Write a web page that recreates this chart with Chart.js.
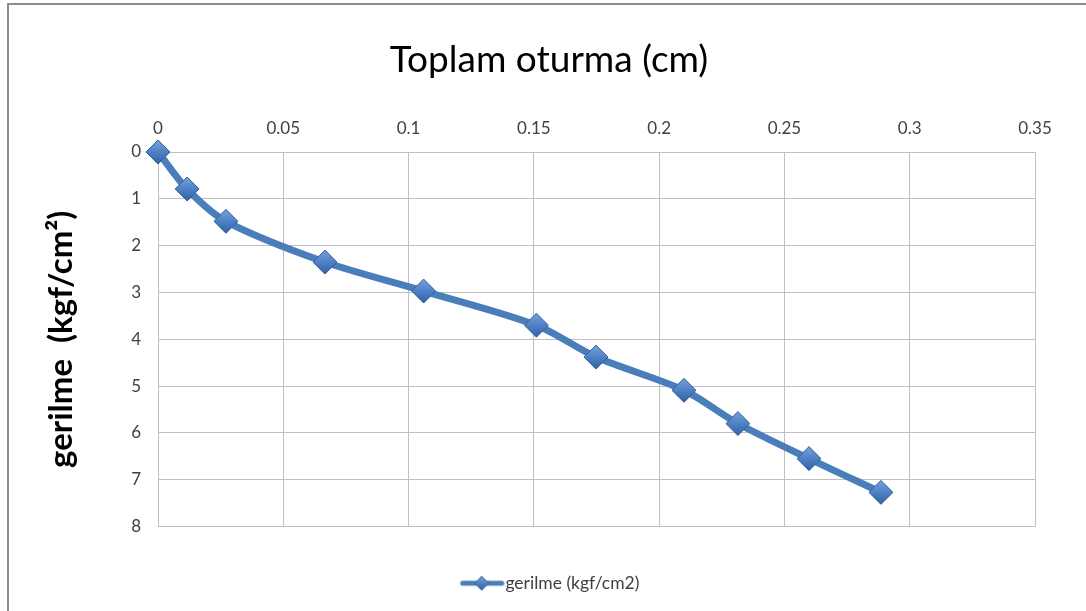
<!DOCTYPE html>
<html>
<head>
<meta charset="utf-8">
<title>Toplam oturma</title>
<script src="https://cdn.jsdelivr.net/npm/chart.js@4.4.1/dist/chart.umd.min.js"></script>
<style>
    body { margin: 0; background: #fff; overflow: hidden; }
    #frame {
        position: absolute; left: 7px; top: 3px; width: 1200px; height: 700px;
        border-left: 2px solid #8c8c8c; border-top: 2px solid #8c8c8c;
    }
    #wrap { position: absolute; left: 0; top: 0; width: 1086px; height: 611px; }
</style>
</head>
<body>
<div id="frame"></div>
<div id="wrap"><canvas id="chart"></canvas></div>
<script>
// Toplam oturma (cm) vs gerilme (kgf/cm2)
const oturma = [0, 0.0116, 0.0271, 0.0666, 0.106, 0.151, 0.1748, 0.2099, 0.2314, 0.2598, 0.2885];
const gerilme = [0, 0.79, 1.48, 2.35, 2.97, 3.70, 4.38, 5.09, 5.80, 6.55, 7.27];

const xTicks = [0, 0.05, 0.1, 0.15, 0.2, 0.25, 0.3, 0.35];
const yTicks = [0, 1, 2, 3, 4, 5, 6, 7, 8];

const seriesLabel = 'gerilme (kgf/cm2)';
const chartTitle = 'Toplam oturma (cm)';
const yTitle = 'gerilme  (kgf/cm\u00B2)';

const FONT = 'Lato, "Open Sans", sans-serif';
const lineColor = '#4a7ebb';

// shaded diamond marker, like the Excel bevel
function makeDiamond(r) {
    const c = document.createElement('canvas');
    const s = r * 2 + 4;
    c.width = s; c.height = s;
    const ctx = c.getContext('2d');
    const m = s / 2;
    const g = ctx.createLinearGradient(0, 0, 0, s);
    g.addColorStop(0, '#7fa9df');
    g.addColorStop(0.5, '#4f81c6');
    g.addColorStop(1, '#2f5e9e');
    ctx.beginPath();
    ctx.moveTo(m, m - r);
    ctx.lineTo(m + r, m);
    ctx.lineTo(m, m + r);
    ctx.lineTo(m - r, m);
    ctx.closePath();
    ctx.fillStyle = g;
    ctx.fill();
    ctx.lineWidth = 1;
    ctx.strokeStyle = '#34609a';
    ctx.stroke();
    return c;
}

function makeLegendIcon() {
    const c = document.createElement('canvas');
    c.width = 54; c.height = 16;
    const ctx = c.getContext('2d');
    ctx.strokeStyle = lineColor;
    ctx.lineWidth = 5;
    ctx.lineCap = 'round';
    ctx.beginPath();
    ctx.moveTo(12, 8);
    ctx.lineTo(51, 8);
    ctx.stroke();
    const d = makeDiamond(7);
    ctx.drawImage(d, 31 - d.width / 2, 8 - d.height / 2);
    return c;
}

const points = oturma.map((x, i) => ({ x: x, y: gerilme[i] }));

new Chart(document.getElementById('chart'), {
    type: 'scatter',
    data: {
        datasets: [{
            label: seriesLabel,
            data: points,
            showLine: true,
            clip: false,
            borderColor: lineColor,
            borderWidth: 7,
            tension: 0.3,
            pointStyle: makeDiamond(12),
            pointRadius: 12,
            pointHoverRadius: 12
        }]
    },
    options: {
        responsive: true,
        maintainAspectRatio: false,
        animation: false,
        layout: { padding: { left: 30, right: 18, top: 0, bottom: 9 } },
        plugins: {
            tooltip: { enabled: false },
            title: {
                display: true,
                text: chartTitle,
                color: '#000',
                font: { family: FONT, size: 37, weight: 'normal' },
                padding: { top: 38, bottom: 6 }
            },
            legend: {
                position: 'bottom',
                labels: {
                    usePointStyle: true,
                    pointStyle: makeLegendIcon(),
                    pointStyleWidth: 38,
                    padding: 48,
                    color: '#404040',
                    font: { family: FONT, size: 17.5 }
                }
            }
        },
        scales: {
            x: {
                type: 'linear',
                position: 'top',
                min: 0,
                max: 0.35,
                afterBuildTicks: s => { s.ticks = xTicks.map(v => ({ value: v })); },
                afterFit: s => { s.height = 152 - 88.4; },
                ticks: {
                    padding: 13,
                    color: '#404040',
                    font: { family: FONT, size: 17 },
                    callback: v => String(v)
                },
                grid: { color: '#bfbfbf', drawTicks: false },
                border: { color: '#bfbfbf' }
            },
            y: {
                type: 'linear',
                reverse: true,
                min: 0,
                max: 8,
                afterBuildTicks: s => { s.ticks = yTicks.map(v => ({ value: v })); },
                afterFit: s => { s.width = 128; },
                ticks: {
                    padding: 17,
                    color: '#404040',
                    font: { family: FONT, size: 17 }
                },
                grid: { color: '#bfbfbf', drawTicks: false },
                border: { color: '#bfbfbf' },
                title: {
                    display: true,
                    text: yTitle,
                    color: '#000',
                    font: { family: FONT, size: 33, weight: 'bold' },
                    padding: { top: 12, bottom: 0 }
                }
            },
            yR: {
                position: 'right',
                display: true,
                afterFit: s => { s.width = 33; },
                ticks: { display: false },
                grid: { display: false },
                border: { display: false }
            }
        }
    }
});
</script>
</body>
</html>
